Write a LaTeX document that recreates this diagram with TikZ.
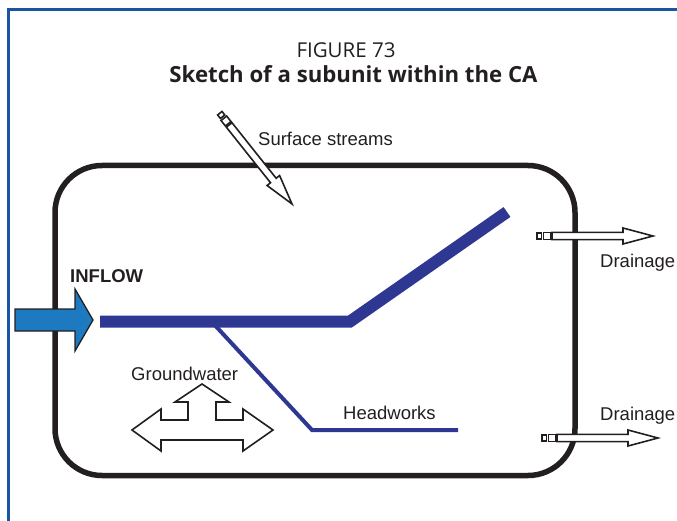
\documentclass[tikz,border=0pt]{standalone}
\usepackage{fontspec}
\setmainfont{Liberation Sans}
\newfontfamily\titlefont{Open Sans}
\definecolor{framblue}{RGB}{25,85,160}
\definecolor{riverblue}{RGB}{46,56,146}
\definecolor{inflowblue}{RGB}{30,122,192}
\definecolor{inkblack}{RGB}{35,31,32}
\tikzset{
  arrline/.style={draw=inkblack, line width=1.6pt, fill=white, line join=miter},
  lbl/.style={inner sep=0pt, anchor=base west, font=\fontsize{18.5}{22}\selectfont, text=inkblack},
  slimarrow/.pic={
    \draw[arrline] (0,-2.8) rectangle (4.5,2.8);
    \draw[arrline] (6.5,-3.6) rectangle (13.5,3.6);
    \draw[arrline] (15,-3.6) -- (86,-3.6) -- (86,-8) -- (116,0) -- (86,8) -- (86,3.6) -- (15,3.6) -- cycle;
  }
}
\begin{document}
\begin{tikzpicture}[x=1pt,y=-1pt]
\useasboundingbox (0,0) rectangle (677,521);
% frame
\draw[framblue, line width=2.5pt] (8.5,521) -- (8.5,9.5) -- (677,9.5);
% titles
\node[inner sep=0pt, anchor=base, font=\titlefont\fontsize{20.5}{24}\selectfont, text=inkblack] (t1) at (346,58) {FIGURE 73};
\node[inner sep=0pt, anchor=base, font=\titlefont\bfseries\fontsize{22.2}{26}\selectfont, text=inkblack] (t2) at (353.5,83) {Sketch of a subunit within the CA};
% subunit outline
\draw[inkblack, line width=5.5pt, rounded corners=47pt] (55,165.5) rectangle (575,475.5);
% river
\draw[riverblue, line width=4pt, line join=miter] (211,321) -- (312,430) -- (458,430);
\draw[riverblue, line width=12pt, line join=miter] (100,321.5) -- (350,321.5) -- (507,212);
% inflow arrow
\draw[draw=inkblack, line width=1.3pt, fill=inflowblue, line join=miter]
  (15,309) -- (75,309) -- (75,289) -- (93,320) -- (75,351) -- (75,331) -- (15,331) -- cycle;
\node[lbl, font=\bfseries\fontsize{18.5}{22}\selectfont] (inflow) at (70,283) {INFLOW};
% surface streams
\pic[rotate=-51.5] at (219.8,113.2) {slimarrow};
\node[lbl] (surf) at (258,146) {Surface streams};
% drainage
\pic at (537,236) {slimarrow};
\node[lbl] (dr1) at (600,268) {Drainage};
\pic at (542,438) {slimarrow};
\node[lbl] (dr2) at (600,420) {Drainage};
% groundwater
\draw[arrline] (132,430) -- (161,409) -- (161,420) -- (188,420) -- (188,402) -- (175,402) -- (202,384) -- (229,402) -- (216,402) -- (216,420) -- (243,420) -- (243,409) -- (273,430) -- (243,451) -- (243,440) -- (161,440) -- (161,451) -- cycle;
\node[lbl] (gw) at (131,380) {Groundwater};
\node[lbl] (hw) at (343,419) {Headworks};
\end{tikzpicture}
\end{document}
